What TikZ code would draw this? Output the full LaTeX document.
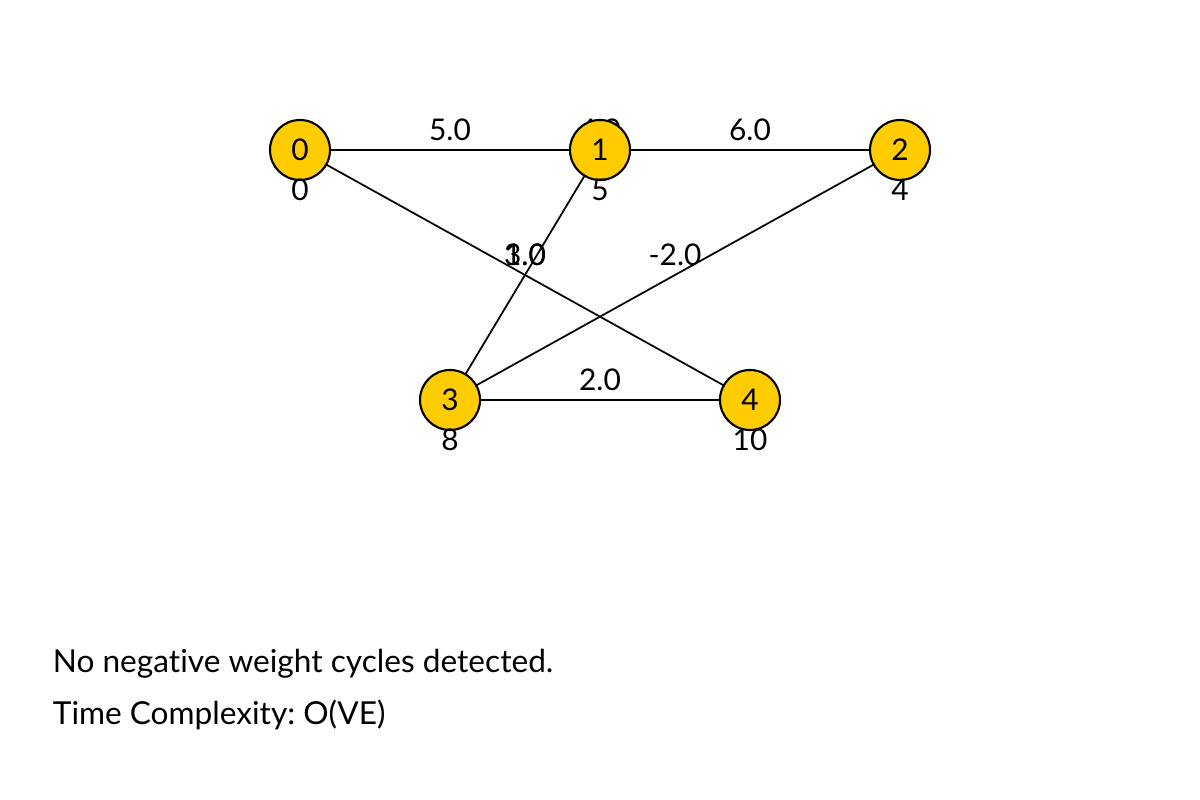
\documentclass[tikz,border=0pt]{standalone}
\usepackage{fontspec}
\setmainfont[Ligatures=NoCommon]{Lato}
\frenchspacing
\definecolor{vertexgold}{HTML}{FFCC00}
\tikzset{
  vertex/.style={circle, draw=black, fill=vertexgold, line width=0.6pt, minimum size=0.6cm, inner sep=0pt},
  weight/.style={yshift=0.2cm, inner sep=1pt},
  dist/.style={inner sep=0pt},
  status/.style={anchor=base west, inner sep=0pt, font=\fontsize{9}{11}\selectfont}
}
\begin{document}
\begin{tikzpicture}[font=\fontsize{8.5}{10}\selectfont, line width=0.5pt]
      \useasboundingbox (0,0) rectangle (12,8);
      \coordinate (p0) at (3,6.5);
      \coordinate (p1) at (6,6.5);
      \coordinate (p2) at (9,6.5);
      \coordinate (p3) at (4.5,4);
      \coordinate (p4) at (7.5,4);
      \begin{scope}[-]
        \draw (p0) -- node[weight]{5.0} (p1);
        \draw (p0) -- node[weight]{4.0} (p2);
        \draw (p0) -- node[weight]{1.0} (p4);
        \draw (p1) -- node[weight]{6.0} (p2);
        \draw (p1) -- node[weight]{3.0} (p3);
        \draw (p2) -- node[weight]{-2.0} (p3);
        \draw (p3) -- node[weight]{2.0} (p4);
      \end{scope}
      \draw
        (p0) node[vertex] (0){0}
        (p1) node[vertex] (1){1}
        (p2) node[vertex] (2){2}
        (p3) node[vertex] (3){3}
        (p4) node[vertex] (4){4};
      \node[dist] (d0) at (3,6.1) {0};
      \node[dist] (d1) at (6,6.1) {5};
      \node[dist] (d2) at (9,6.1) {4};
      \node[dist] (d3) at (4.5,3.6) {8};
      \node[dist] (d4) at (7.5,3.6) {10};
      \node[status] (msg) at (0.52,1.27) {No negative weight cycles detected.};
      \node[status] (cplx) at (0.52,0.75) {Time Complexity: O(VE)};
    \end{tikzpicture}
\end{document}
